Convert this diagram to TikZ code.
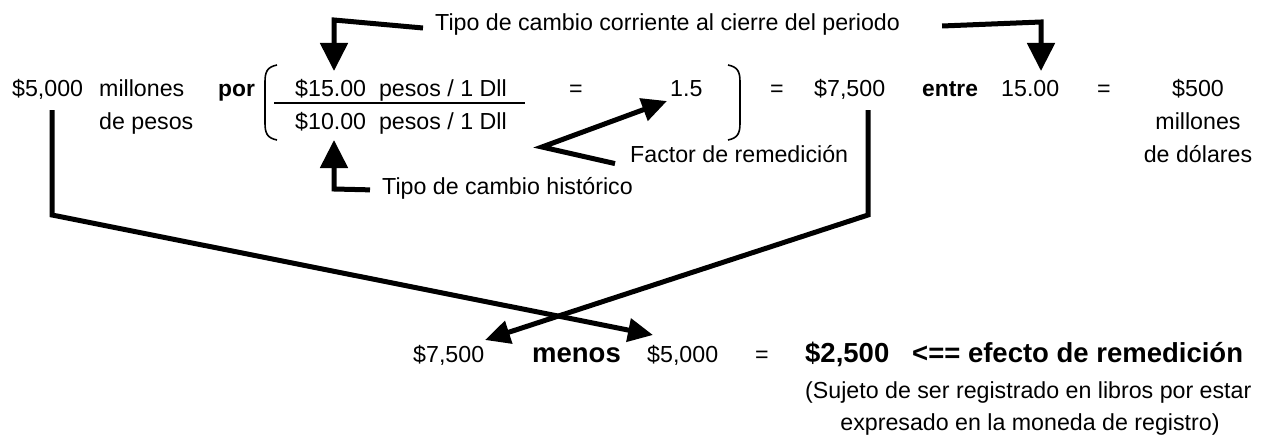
\documentclass[tikz,border=0pt]{standalone}
\usepackage{fontspec}
\setmainfont{Liberation Sans}
\usetikzlibrary{arrows.meta}
\tikzset{
  txt/.style={inner sep=0pt, font=\fontsize{23.2}{27}\selectfont},
  btxt/.style={inner sep=0pt, font=\fontsize{22.8}{27}\selectfont\bfseries},
  bigb/.style={inner sep=0pt, font=\fontsize{27.5}{32}\selectfont\bfseries},
  conn/.style={line width=5pt, line join=miter, line cap=butt},
  arr/.style={conn, -{Triangle[width=27pt,length=28pt]}},
  sarr/.style={conn, -{Triangle[width=23pt,length=25pt]}},
  paren/.style={line width=1.6pt},
}
\begin{document}
\begin{tikzpicture}[x=1pt,y=-1pt]
\useasboundingbox (0,0) rectangle (1278,436);
% top label
\node[txt, anchor=base west] (tc) at (435,31) {Tipo de cambio corriente al cierre del periodo};
% row 1
\node[txt, anchor=base west] (a5000) at (12,96) {\$5,000};
\node[txt, anchor=base west] (mill) at (99,96) {millones};
\node[txt, anchor=base west] (depesos) at (99,129) {de pesos};
\node[btxt, anchor=base west] (por) at (218,96) {por};
\node[txt, anchor=base west] (num) at (295,96) {\$15.00\ \ pesos / 1 Dll};
\node[txt, anchor=base west] (den) at (295,129) {\$10.00\ \ pesos / 1 Dll};
\node[txt, anchor=base] (eq1) at (576,96) {=};
\node[txt, anchor=base west] (f15) at (670,96) {1.5};
\node[txt, anchor=base] (eq2) at (777,96) {=};
\node[txt, anchor=base west] (a7500) at (814,96) {\$7,500};
\node[btxt, anchor=base west] (entre) at (922,96) {entre};
\node[txt, anchor=base west] (q15) at (1001,96) {15.00};
\node[txt, anchor=base] (eq3) at (1104,96) {=};
\node[txt, anchor=base] (a500) at (1198,96) {\$500};
\node[txt, anchor=base] (mill2) at (1198,129) {millones};
\node[txt, anchor=base] (dolares) at (1198,162) {de dólares};
\node[txt, anchor=base west] (factor) at (630,162) {Factor de remedición};
\node[txt, anchor=base west] (hist) at (382,194) {Tipo de cambio histórico};
% parens and fraction line
\draw[paren] (277,65) .. controls (267,67) and (265,72) .. (265,82) -- (265,123) .. controls (265,133) and (267,138) .. (277,140);
\draw[paren] (728,65) .. controls (738,67) and (740,72) .. (740,82) -- (740,123) .. controls (740,133) and (738,138) .. (728,140);
\draw[line width=2.5pt] (274,103) -- (525,103);
% helper coordinates
\coordinate (tip1) at (334,71);
\coordinate (tip2) at (1041,71);
\coordinate (tip3) at (334,140);
\coordinate (v) at (542,147);
\coordinate (tip4) at (667,101);
\coordinate (c1) at (52,215);
\coordinate (c2) at (868,215);
% bottom row
\node[txt, anchor=base west] (b7500) at (413,362) {\$7,500};
\node[bigb, anchor=base west] (menos) at (532,362) {menos};
\node[txt, anchor=base west] (b5000) at (647,362) {\$5,000};
\node[txt, anchor=base] (eq4) at (762,362) {=};
\node[bigb, anchor=base west] (res) at (805,362) {\$2,500\ \ \ {<}== efecto de remedición};
\node[txt, anchor=base west] (suj) at (805,398) {(Sujeto de ser registrado en libros por estar};
\node[txt, anchor=base] (expr) at (1030,430) {expresado en la moneda de registro)};
\coordinate (tip5) at (485,340);
\coordinate (tip6) at (653,335);
% connectors
\draw[arr] ([xshift=-12pt,yshift=-3pt]tc.west) -- (334,20) -- (tip1);
\draw[arr] ([xshift=42pt,yshift=-1pt]tc.east) -- (1041,22) -- (tip2);
\draw[arr] ([xshift=-12pt,yshift=-2pt]hist.west) -- (334,189) -- (tip3);
\draw[sarr] ([xshift=-15pt,yshift=-10pt]factor.west) -- (v) -- (tip4);
\draw[sarr] (52,110) -- (c1) -- (tip6);
\draw[sarr] (868,110) -- (c2) -- (tip5);
\end{tikzpicture}
\end{document}
